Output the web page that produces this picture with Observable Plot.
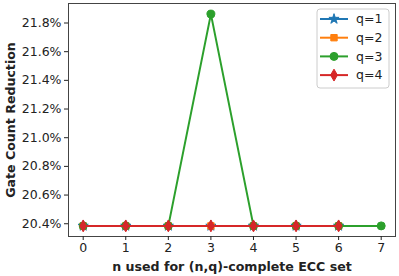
<!DOCTYPE html>
<html><head><meta charset="utf-8">
<script src="https://cdn.jsdelivr.net/npm/d3@7"></script>
<script src="https://cdn.jsdelivr.net/npm/@observablehq/plot@0.6"></script>
<style>
html,body{margin:0;padding:0;background:#fff;}
#chart svg{font-family:"DejaVu Sans",sans-serif;}
g[aria-label="x-axis label"] text, g[aria-label="y-axis label"] text{font-weight:bold;font-size:12.6px;}
</style>
</head><body><div id="chart"></div>
<script>
const seriesNames = ["q=1","q=2","q=3","q=4"];
const nQ1 = [0,1,2,3,4,5,6];
const nQ2 = [0,1,2,3,4,5,6];
const nQ3 = [0,1,2,3,4,5,6,7];
const nQ4 = [0,1,2,3,4,5,6];
const q1 = [20.385,20.385,20.385,20.385,20.385,20.385,20.385];
const q2 = [20.385,20.385,20.385,20.385,20.385,20.385,20.385];
const q3 = [20.385,20.385,20.385,21.862,20.385,20.385,20.385,20.385];
const q4 = [20.385,20.385,20.385,20.385,20.385,20.385,20.385];
const xTicks = [0,1,2,3,4,5,6,7];
const yTicks = [20.4,20.6,20.8,21.0,21.2,21.4,21.6,21.8];

const colors = ["#1f77b4","#ff7f0e","#2ca02c","#d62728"];
const symbols = ["star","square","circle","diamond"];
const radii = [3.2,3.6,4,3.6];
const xs = [nQ1,nQ2,nQ3,nQ4];
const ys = [q1,q2,q3,q4];

const marks = [];
seriesNames.forEach((name,i)=>{
  const data = xs[i].map((n,j)=>({n, v: ys[i][j], s: name}));
  marks.push(Plot.line(data,{x:"n",y:"v",stroke:colors[i],strokeWidth:2}));
  marks.push(Plot.dot(data,{x:"n",y:"v",fill:colors[i],stroke:colors[i],symbol:symbols[i],r:radii[i],strokeWidth:1}));
});
marks.push(Plot.frame({stroke:"#444",strokeWidth:1}));
marks.push(Plot.axisX({ticks:xTicks,tickSize:4,tickPadding:3,fontSize:12.5,label:"n used for (n,q)-complete ECC set",labelAnchor:"center",labelArrow:"none",labelOffset:34}));
marks.push(Plot.axisY({ticks:yTicks,tickSize:4,tickPadding:3,fontSize:12.5,tickFormat:d=>d.toFixed(1)+"%",label:"Gate Count Reduction",labelAnchor:"center",labelArrow:"none",labelOffset:62}));

const chart = Plot.plot({
  width:399,height:276,
  marginLeft:68,marginRight:4,marginTop:3,marginBottom:40,
  x:{domain:[-0.345,7.336]},
  y:{domain:[20.311,21.936]},
  style:{fontSize:"12.5px",color:"#222",background:"#fff"},
  marks
});
document.getElementById("chart").appendChild(chart);

// legend
const svg = d3.select(chart);
const lg = svg.append("g").attr("transform","translate(317,9)").attr("text-anchor","start");
lg.append("rect").attr("width",72).attr("height",79).attr("rx",3).attr("fill","#fff").attr("fill-opacity",0.8).attr("stroke","#ccc");
const symMap = {star:d3.symbolStar,square:d3.symbolSquare,circle:d3.symbolCircle,diamond:d3.symbolDiamond};
seriesNames.forEach((name,i)=>{
  const y = 10 + i*18.7;
  lg.append("line").attr("x1",3).attr("x2",31).attr("y1",y).attr("y2",y).attr("stroke",colors[i]).attr("stroke-width",2);
  lg.append("path").attr("d",d3.symbol(symMap[symbols[i]],Math.PI*radii[i]*radii[i])()).attr("transform",`translate(17,${y})`).attr("fill",colors[i]).attr("stroke",colors[i]);
  lg.append("text").attr("x",39).attr("y",y).attr("dy","0.35em").attr("font-size",12.5).attr("fill","#222").text(name);
});
</script>
</body></html>
